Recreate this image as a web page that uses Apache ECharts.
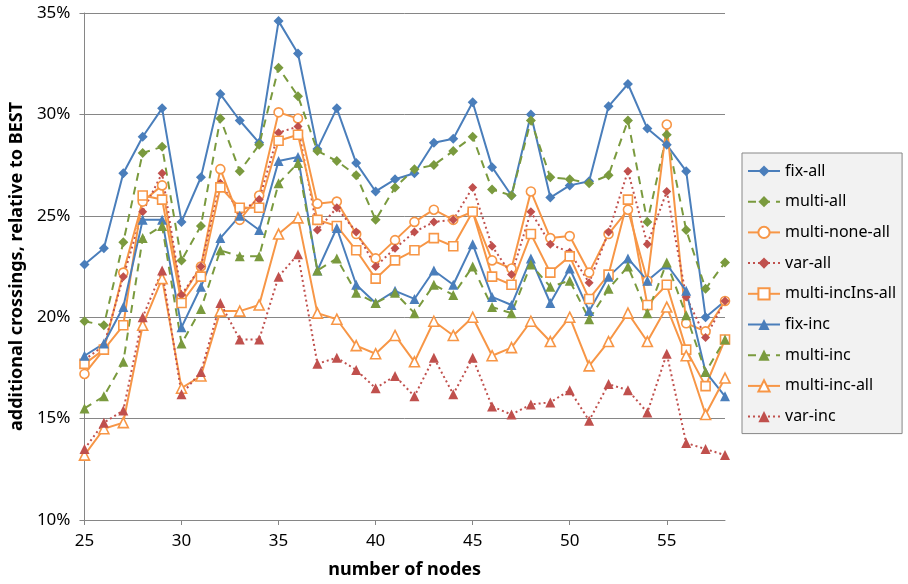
<!DOCTYPE html>
<html>
<head>
<meta charset="utf-8">
<script src="https://cdn.jsdelivr.net/npm/echarts@6/dist/echarts.min.js"></script>
<style>html,body{margin:0;padding:0;background:#fff}#c{width:908px;height:584px}</style>
</head>
<body>
<div id="c"></div>
<script>
const nodes = [25,26,27,28,29,30,31,32,33,34,35,36,37,38,39,40,41,42,43,44,45,46,47,48,49,50,51,52,53,54,55,56,57,58];
const yTicks = [10,15,20,25,30,35];
const seriesNames = ['fix-all','multi-all','multi-none-all','var-all','multi-incIns-all','fix-inc','multi-inc','multi-inc-all','var-inc'];

const fixAll = [22.6,23.4,27.1,28.9,30.3,24.7,26.9,31.0,29.7,28.6,34.6,33.0,28.3,30.3,27.6,26.2,26.8,27.1,28.6,28.8,30.6,27.4,26.0,30.0,25.9,26.5,26.7,30.4,31.5,29.3,28.5,27.2,20.0,20.8];
const multiAll = [19.8,19.6,23.7,28.1,28.4,22.8,24.5,29.8,27.2,28.5,32.3,30.9,28.2,27.7,27.0,24.8,26.4,27.3,27.5,28.2,28.9,26.3,26.0,29.7,26.9,26.8,26.6,27.0,29.7,24.7,29.0,24.3,21.4,22.7];
const multiNoneAll = [17.2,18.4,22.2,25.7,26.5,21.0,22.5,27.3,24.8,26.0,30.1,29.8,25.6,25.7,24.1,22.9,23.8,24.7,25.3,24.8,25.2,22.8,22.4,26.2,23.9,24.0,22.2,24.1,25.3,21.8,29.5,19.7,19.3,20.8];
const varAll = [17.9,18.6,22.0,25.2,27.1,21.1,22.5,26.6,25.2,25.8,29.1,29.4,24.3,25.4,24.2,22.5,23.4,24.2,24.7,24.8,26.4,23.5,22.1,25.2,23.6,23.2,21.7,24.2,27.2,23.6,26.2,21.0,19.0,20.8];
const multiIncInsAll = [17.7,18.4,19.6,26.0,25.8,20.7,22.0,26.4,25.4,25.4,28.7,29.0,24.8,24.5,23.3,21.9,22.8,23.3,23.9,23.5,25.2,22.0,21.6,24.1,22.2,23.0,20.9,22.1,25.8,20.6,21.6,18.4,16.6,18.9];
const fixInc = [18.1,18.7,20.5,24.8,24.8,19.5,21.5,23.9,25.0,24.3,27.7,27.9,22.3,24.4,21.6,20.7,21.3,20.9,22.3,21.6,23.6,21.0,20.6,22.9,20.7,22.4,20.3,22.0,22.9,21.8,22.6,21.3,17.3,16.1];
const multiInc = [15.5,16.1,17.8,23.9,24.5,18.7,20.4,23.3,23.0,23.0,26.6,27.6,22.3,22.9,21.2,20.7,21.2,20.2,21.6,21.1,22.5,20.5,20.2,22.6,21.5,21.8,19.9,21.4,22.5,20.2,22.7,20.1,17.3,18.9];
const multiIncAll = [13.2,14.5,14.8,19.6,21.9,16.5,17.1,20.3,20.3,20.6,24.1,24.9,20.2,19.9,18.6,18.2,19.1,17.8,19.8,19.1,20.0,18.1,18.5,19.8,18.8,20.0,17.6,18.8,20.2,18.8,20.5,18.1,15.2,17.0];
const varInc = [13.5,14.8,15.4,20.0,22.3,16.2,17.3,20.7,18.9,18.9,22.0,23.1,17.7,18.0,17.4,16.5,17.1,16.1,18.0,16.2,18.0,15.6,15.2,15.7,15.8,16.4,14.9,16.7,16.4,15.3,18.2,13.8,13.5,13.2];

const BLUE = '#4a7ebb', GREEN = '#7a9a3e', ORANGE = '#f79646', RED = '#c0504d';
const FONT = 'Noto Sans';

function pts(arr){ return nodes.map((n,i)=>[n,arr[i]]); }

function mk(name, data, color, dash, symbol, hollow, size){
  return {
    name: name, type: 'line', data: pts(data), symbol: symbol, symbolSize: size,
    lineStyle: {color: color, width: 2, type: dash},
    itemStyle: hollow ? {color: '#fff', borderColor: color, borderWidth: 1.6} : {color: color, borderWidth: 0},
    emphasis: {disabled: true}, animation: false, z: 2
  };
}

const chart = echarts.init(document.getElementById('c'), null, {renderer: 'canvas'});
chart.setOption({
  animation: false,
  grid: {left: 82, right: 183, top: 13, bottom: 63, containLabel: false},
  xAxis: {
    type: 'value', min: 25, max: 58, interval: 5,
    name: 'number of nodes', nameLocation: 'middle', nameGap: 41,
    nameTextStyle: {fontFamily: FONT, fontSize: 18, fontWeight: 'bold', color: '#000'},
    axisLine: {show: true, lineStyle: {color: '#868686', width: 1}},
    axisTick: {show: true, length: 5, lineStyle: {color: '#868686'}},
    axisLabel: {fontFamily: FONT, fontSize: 17, color: '#000', margin: 13, showMaxLabel: false},
    splitLine: {show: false}
  },
  yAxis: {
    type: 'value', min: yTicks[0], max: yTicks[yTicks.length-1], interval: 5,
    name: 'additional crossings, relative to BEST', nameLocation: 'middle', nameGap: 54,
    nameTextStyle: {fontFamily: FONT, fontSize: 18, fontWeight: 'bold', color: '#000'},
    axisLine: {show: true, lineStyle: {color: '#868686', width: 1}},
    axisTick: {show: true, length: 5, lineStyle: {color: '#868686'}},
    axisLabel: {fontFamily: FONT, fontSize: 17, color: '#000', margin: 14, formatter: '{value}%'},
    splitLine: {show: true, lineStyle: {color: '#868686', width: 1}}
  },
  legend: {
    orient: 'vertical', left: 742, top: 153,
    data: seriesNames,
    backgroundColor: '#f2f2f2', borderColor: '#878787', borderWidth: 1,
    padding: [10, 6, 9, 5], itemWidth: 32, itemHeight: 14, itemGap: 14.7,
    textStyle: {fontFamily: FONT, fontSize: 16, color: '#000', lineHeight: 14},
    selectedMode: false
  },
  series: [
    mk(seriesNames[0], fixAll, BLUE, 'solid', 'diamond', false, 10),
    mk(seriesNames[1], multiAll, GREEN, [8,6], 'diamond', false, 10),
    mk(seriesNames[2], multiNoneAll, ORANGE, 'solid', 'circle', true, 9),
    mk(seriesNames[3], varAll, RED, [2,3], 'diamond', false, 9),
    mk(seriesNames[4], multiIncInsAll, ORANGE, 'solid', 'rect', true, 9),
    mk(seriesNames[5], fixInc, BLUE, 'solid', 'triangle', false, 10),
    mk(seriesNames[6], multiInc, GREEN, [8,6], 'triangle', false, 10),
    mk(seriesNames[7], multiIncAll, ORANGE, 'solid', 'triangle', true, 10),
    mk(seriesNames[8], varInc, RED, [2,3], 'triangle', false, 10)
  ]
});
</script>
</body>
</html>
